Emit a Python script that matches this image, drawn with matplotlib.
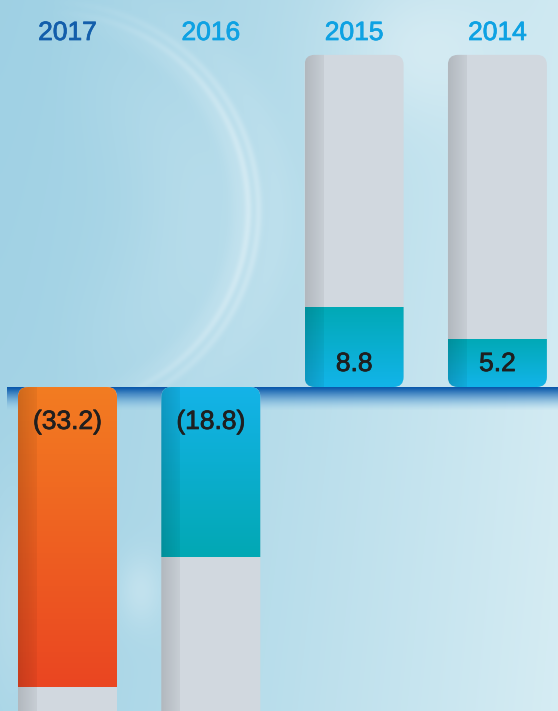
import numpy as np
import matplotlib.pyplot as plt
import matplotlib.patheffects as pe
from matplotlib.patches import FancyBboxPatch
from matplotlib.colors import to_rgb

# data
years = ['2017', '2016', '2015', '2014']
values = [-33.2, -18.8, 8.8, 5.2]
value_labels = ['(33.2)', '(18.8)', '8.8', '5.2']
year_colors = ['#135eab', '#0ea2e3', '#0ea2e3', '#0ea2e3']
# (colour at the zero end, colour at the far end)
bar_colors = [('#f37c21', '#ea4622'), ('#14b3e8', '#02a8b4'),
              ('#12b4e9', '#01a9b6'), ('#12b4e9', '#01a9b6')]
track_top = 36.7
track_bottom = -40.0

W, H = 558, 711
px_per_unit_y = 9.05
zero_px = 387
step_px = 143.3
first_px = 67.5

fig = plt.figure(figsize=(W / 100, H / 100), dpi=100)
ax = fig.add_axes([0, 0, 1, 1])
ax.axis('off')

x0 = -first_px / step_px
x1 = (W - first_px) / step_px
y1 = zero_px / px_per_unit_y
y0 = -(H - zero_px) / px_per_unit_y
ax.set_xlim(x0, x1)
ax.set_ylim(y0, y1)

# background: light blue wash with soft white rings
yy, xx = np.mgrid[0:H, 0:W].astype(float)
t = np.clip(0.05 + 0.75 * (xx / W) ** 1.3 + 0.12 * (yy / H), 0, 1)
dark = np.array(to_rgb('#9ccfe3'))
light = np.array(to_rgb('#dbeff5'))
bg = dark[None, None, :] * (1 - t[..., None]) + light[None, None, :] * t[..., None]
glow = np.zeros((H, W))
ccx, ccy = 50, 210
r = np.hypot(xx - ccx, yy - ccy)
side = np.clip((xx - ccx) / r.clip(1), 0, 1) * (yy < 395)
for R, s, wgt in [(198, 4, 0.28), (208, 4, 0.24), (190, 10, 0.14), (225, 20, 0.1)]:
    glow += wgt * np.exp(-((r - R) / s) ** 2) * side
glow += 0.10 * np.exp(-((r - 140) / 60) ** 2) * side
glow += 0.25 * np.exp(-(((xx - 140) / 22) ** 2 + ((yy - 590) / 35) ** 2))
glow += 0.30 * np.exp(-(((xx - 420) / 80) ** 2 + ((yy - 50) / 70) ** 2))
glow += 0.15 * np.exp(-(((xx - 10) / 25) ** 2 + ((yy - 600) / 120) ** 2))
glow = np.clip(glow, 0, 0.8)
bg = bg * (1 - glow[..., None]) + glow[..., None]
ax.imshow(bg, extent=(x0, x1, y0, y1), aspect='auto', zorder=0, interpolation='bilinear')

# zero line band
band = np.zeros((24, 2, 4))
top_c = np.array(to_rgb('#0a58ab'))
low_c = np.array(to_rgb('#8cc8e8'))
for k in range(24):
    f = k / 23
    band[k, :, :3] = top_c * (1 - f) + low_c * f
    band[k, :, 3] = 1 - f ** 1.3
ax.imshow(band, extent=(-(first_px - 7) / step_px, x1, -24 / px_per_unit_y, 0),
          aspect='auto', zorder=1, interpolation='bilinear')

width = 99 / step_px
xs = np.arange(len(years))
aspect = step_px / px_per_unit_y
radius = 10 / step_px
strip = 19 / step_px

bars = ax.bar(xs, values, width=width, color='none', linewidth=0, zorder=3)

for i, (x, v) in enumerate(zip(xs, values)):
    lo, hi = (0, track_top) if v > 0 else (track_bottom, 0)
    track = FancyBboxPatch((x - width / 2, lo), width, hi - lo,
                           boxstyle=f'round,pad=0,rounding_size={radius}',
                           mutation_aspect=aspect, facecolor='#d1d8df',
                           edgecolor='none', zorder=2)
    ax.add_patch(track)

    # value bar with vertical gradient, clipped to the rounded track
    near = np.array(to_rgb(bar_colors[i][0]))
    far = np.array(to_rgb(bar_colors[i][1]))
    n = 64
    f = np.linspace(0, 1, n)[:, None]
    grad = near * (1 - f) + far * f  # row 0 = zero end
    if v > 0:
        grad = grad[::-1]  # image row 0 is top
    im = ax.imshow(grad[:, None, :], extent=(x - width / 2, x + width / 2, min(0, v), max(0, v)),
                   aspect='auto', zorder=3, interpolation='bilinear')
    im.set_clip_path(track)
    bars[i].set_clip_path(track)

    # darker strip on the left side
    sh = np.zeros((1, 32, 4))
    sh[0, :, 3] = np.linspace(0.15, 0.05, 32)
    im2 = ax.imshow(sh, extent=(x - width / 2, x - width / 2 + strip, lo, hi),
                    aspect='auto', zorder=4, interpolation='bilinear')
    im2.set_clip_path(track)

    # value label
    off = 11.5 if v > 0 else -30.2
    ax.annotate(value_labels[i], xy=(x, 0), xytext=(0, off), textcoords='offset points',
                ha='center', va='baseline', fontsize=19, color='#1f1f1f',
                family='Liberation Sans', zorder=6,
                path_effects=[pe.withStroke(linewidth=0.55, foreground='#1f1f1f')])

    # year label
    ax.text(x, (zero_px - 33) / px_per_unit_y, years[i], ha='center', va='center',
            fontsize=19, color=year_colors[i], family='Liberation Sans', zorder=6,
            path_effects=[pe.withStroke(linewidth=0.55, foreground=year_colors[i])])

fig.savefig('out.png', dpi=100)
